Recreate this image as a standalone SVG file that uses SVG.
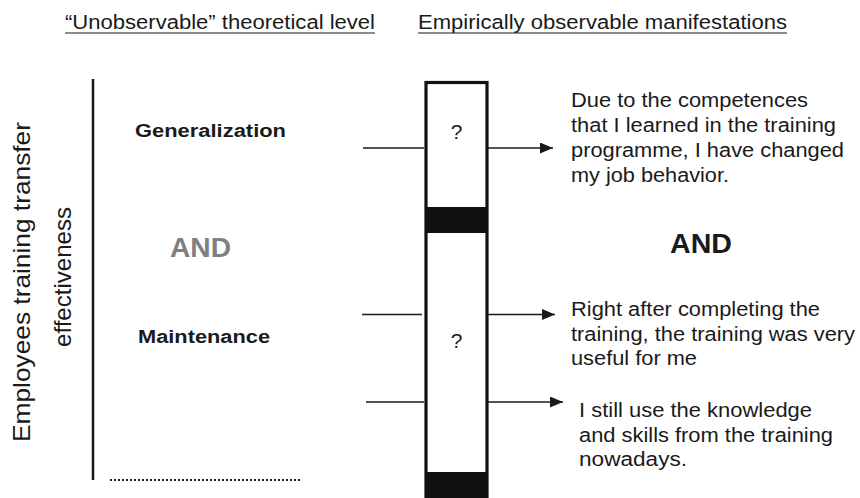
<svg xmlns="http://www.w3.org/2000/svg" width="860" height="498" viewBox="0 0 860 498">
<style>
text{font-family:"Liberation Sans",Arial,sans-serif;fill:#1a1a1a}
.title{font-size:20px}
.lbl{font-size:18px;font-weight:bold}
.and{font-size:28px;font-weight:bold}
.item{font-size:20px}
.q{font-size:21px;text-anchor:middle}
.rot{font-size:24px;text-anchor:middle}
.ln{stroke:#1a1a1a;stroke-width:1.4;fill:none}
.ul{stroke:#1a1a1a;stroke-width:1.2}
</style>
<defs>
<marker id="arr" markerWidth="13" markerHeight="11" refX="13" refY="5.5" orient="auto" markerUnits="userSpaceOnUse">
<path d="M0,0 L13,5.5 L0,11 Z" fill="#1a1a1a"/>
</marker>
</defs>
<rect width="860" height="498" fill="#fff"/>
<g id="titles">
<text class="title" x="65" y="29" textLength="310" lengthAdjust="spacingAndGlyphs">“Unobservable” theoretical level</text>
<line class="ul" x1="65" y1="33" x2="375" y2="33"/>
<text class="title" x="418" y="29" textLength="369" lengthAdjust="spacingAndGlyphs">Empirically observable manifestations</text>
<line class="ul" x1="418" y1="33" x2="787" y2="33"/>
</g>
<g id="axis-label">
<text class="rot" transform="translate(30,282) rotate(-90)" textLength="320" lengthAdjust="spacingAndGlyphs">Employees training transfer</text>
<text class="rot" transform="translate(71,277) rotate(-90)" textLength="140" lengthAdjust="spacingAndGlyphs">effectiveness</text>
</g>
<g id="theory-axis">
<line x1="93" y1="79" x2="93" y2="480" stroke="#1a1a1a" stroke-width="2.5"/>
<line x1="110" y1="480" x2="302" y2="480" stroke="#1a1a1a" stroke-width="2.2" stroke-dasharray="2,2"/>
</g>
<g id="generalization">
<text class="lbl" x="135" y="137" textLength="151" lengthAdjust="spacingAndGlyphs">Generalization</text>
</g>
<g id="and-left">
<text class="and" x="170" y="257" textLength="61" lengthAdjust="spacingAndGlyphs" style="fill:#808080">AND</text>
</g>
<g id="maintenance">
<text class="lbl" x="138" y="343" textLength="132" lengthAdjust="spacingAndGlyphs">Maintenance</text>
</g>
<g id="measure-box">
<rect x="426" y="82.5" width="61" height="420" fill="#fff" stroke="#111" stroke-width="3.2"/>
<rect x="426" y="207" width="61" height="26" fill="#111"/>
<rect x="426" y="472" width="61" height="30" fill="#111"/>
<text class="q" x="456.5" y="139">?</text>
<text class="q" x="456.5" y="348">?</text>
</g>
<g id="connectors">
<line class="ln" x1="363" y1="148" x2="424" y2="148"/>
<line class="ln" x1="488" y1="148" x2="553" y2="148" marker-end="url(#arr)"/>
<line class="ln" x1="362" y1="314.5" x2="422" y2="314.5"/>
<line class="ln" x1="488" y1="314.5" x2="555" y2="314.5" marker-end="url(#arr)"/>
<line class="ln" x1="366" y1="402" x2="424" y2="402"/>
<line class="ln" x1="488" y1="402" x2="563" y2="402" marker-end="url(#arr)"/>
</g>
<g id="item-1">
<text class="item" x="571" y="107" textLength="237" lengthAdjust="spacingAndGlyphs">Due to the competences</text>
<text class="item" x="571" y="132" textLength="265" lengthAdjust="spacingAndGlyphs">that I learned in the training</text>
<text class="item" x="571" y="157" textLength="273" lengthAdjust="spacingAndGlyphs">programme, I have changed</text>
<text class="item" x="571" y="182" textLength="158" lengthAdjust="spacingAndGlyphs">my job behavior.</text>
</g>
<g id="and-right">
<text class="and" x="670" y="253" textLength="62" lengthAdjust="spacingAndGlyphs">AND</text>
</g>
<g id="item-2">
<text class="item" x="571" y="316" textLength="249" lengthAdjust="spacingAndGlyphs">Right after completing the</text>
<text class="item" x="571" y="341" textLength="284" lengthAdjust="spacingAndGlyphs">training, the training was very</text>
<text class="item" x="571" y="365" textLength="126" lengthAdjust="spacingAndGlyphs">useful for me</text>
</g>
<g id="item-3">
<text class="item" x="579" y="417" textLength="233" lengthAdjust="spacingAndGlyphs">I still use the knowledge</text>
<text class="item" x="579" y="442" textLength="254" lengthAdjust="spacingAndGlyphs">and skills from the training</text>
<text class="item" x="579" y="466" textLength="108" lengthAdjust="spacingAndGlyphs">nowadays.</text>
</g>
</svg>
